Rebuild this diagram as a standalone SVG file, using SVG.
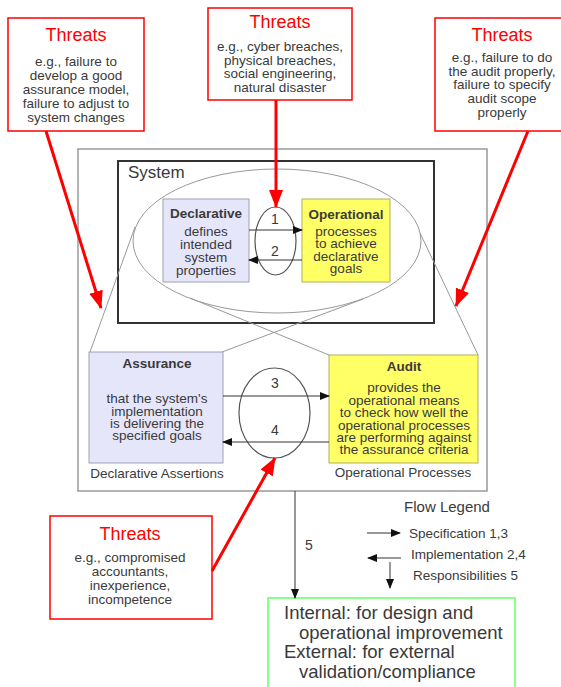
<svg xmlns="http://www.w3.org/2000/svg" width="561" height="687" viewBox="0 0 561 687">
<style>
text{font-family:"Liberation Sans",Arial,sans-serif;fill:#3a3a3a}
.tt{font-size:18px;fill:#ff0000;text-anchor:middle}
.tb{font-size:13.5px;text-anchor:middle}
.bt{font-size:13.5px;font-weight:bold;text-anchor:middle}
.thr{fill:#fff;stroke:#ff0000;stroke-width:1.5}
.red{stroke:#ff0000;stroke-width:3;fill:none}
.gl{stroke:#999;stroke-width:1;fill:none}
.blk{stroke:#333;stroke-width:1;fill:none}
.dec{fill:#e6e6fa;stroke:#a0a0b0;stroke-width:1}
.op{fill:#ffff66;stroke:#b0b060;stroke-width:1}
</style>
<defs>
<marker id="ah" markerWidth="10" markerHeight="8" refX="9" refY="4" orient="auto" markerUnits="userSpaceOnUse"><path d="M0,0 L10,4 L0,8 z" fill="#111"/></marker>
<marker id="rh" markerWidth="18" markerHeight="14" refX="17" refY="7" orient="auto" markerUnits="userSpaceOnUse"><path d="M0,0 L18,7 L0,14 z" fill="#ff0000"/></marker>
</defs>

<g id="outer"><rect x="78" y="149" width="409" height="342" fill="#fff" stroke="#999" stroke-width="1.5"/></g>

<g id="system">
<rect x="118" y="161" width="316" height="162" fill="none" stroke="#333" stroke-width="2"/>
<text x="128" y="178" style="font-size:17px">System</text>
</g>

<g id="perspective">
<ellipse cx="277" cy="241" rx="144" ry="72" class="gl"/>
<line x1="135" y1="227" x2="90" y2="352" class="gl"/>
<line x1="420" y1="233" x2="478" y2="355" class="gl"/>
<line x1="363" y1="299" x2="222" y2="352" class="gl"/>
<line x1="190" y1="298" x2="329" y2="355" class="gl"/>
</g>

<g id="declarative">
<rect x="163" y="199" width="86" height="83" class="dec"/>
<text x="206" y="218" class="bt">Declarative</text>
<text x="206" y="236" class="tb">defines</text>
<text x="206" y="249" class="tb">intended</text>
<text x="206" y="262" class="tb">system</text>
<text x="206" y="275" class="tb">properties</text>
</g>

<g id="operational">
<rect x="302" y="199" width="88" height="83" class="op"/>
<text x="346" y="219" class="bt">Operational</text>
<text x="346" y="236" class="tb">processes</text>
<text x="346" y="248" class="tb">to achieve</text>
<text x="346" y="261" class="tb">declarative</text>
<text x="346" y="273" class="tb">goals</text>
</g>

<g id="loop12">
<ellipse cx="275.5" cy="241" rx="20.5" ry="34" fill="none" stroke="#555" stroke-width="1.2"/>
<text x="275" y="224" style="font-size:14px;text-anchor:middle">1</text>
<text x="275" y="256" style="font-size:14px;text-anchor:middle">2</text>
</g>

<g id="assurance">
<rect x="89" y="352" width="134" height="111" class="dec"/>
<text x="157" y="368" class="bt">Assurance</text>
<text x="157" y="403" class="tb">that the system's</text>
<text x="157" y="416" class="tb">implementation</text>
<text x="157" y="428" class="tb">is delivering the</text>
<text x="157" y="440" class="tb">specified goals</text>
<text x="157" y="478" class="tb">Declarative Assertions</text>
</g>

<g id="audit">
<rect x="329" y="355" width="149" height="108" class="op"/>
<text x="404" y="371" class="bt">Audit</text>
<text x="404" y="392" class="tb">provides the</text>
<text x="404" y="405" class="tb">operational means</text>
<text x="404" y="417" class="tb">to check how well the</text>
<text x="404" y="430" class="tb">operational processes</text>
<text x="404" y="442" class="tb">are performing against</text>
<text x="404" y="454" class="tb">the assurance criteria</text>
<text x="403" y="477" class="tb">Operational Processes</text>
</g>

<g id="loop34">
<ellipse cx="274.5" cy="413" rx="35.5" ry="45" fill="none" stroke="#555" stroke-width="1.2"/>
<text x="275" y="388" style="font-size:14px;text-anchor:middle">3</text>
<text x="275" y="435" style="font-size:14px;text-anchor:middle">4</text>
</g>

<g id="threats1">
<rect x="8" y="18" width="136" height="113" class="thr"/>
<text x="76" y="41" class="tt">Threats</text>
<text x="76" y="66" class="tb">e.g., failure to</text>
<text x="76" y="80" class="tb">develop a good</text>
<text x="76" y="94" class="tb">assurance model,</text>
<text x="76" y="108" class="tb">failure to adjust to</text>
<text x="76" y="122" class="tb">system changes</text>
</g>

<g id="threats2">
<rect x="208" y="8" width="144" height="92" class="thr"/>
<text x="280" y="28" class="tt">Threats</text>
<text x="280" y="51" class="tb">e.g., cyber breaches,</text>
<text x="280" y="65" class="tb">physical breaches,</text>
<text x="280" y="78" class="tb">social engineering,</text>
<text x="280" y="92" class="tb">natural disaster</text>
</g>

<g id="threats3">
<rect x="435" y="18" width="130" height="113" class="thr"/>
<text x="502" y="41" class="tt">Threats</text>
<text x="502" y="62" class="tb">e.g., failure to do</text>
<text x="502" y="76" class="tb">the audit properly,</text>
<text x="502" y="89" class="tb">failure to specify</text>
<text x="502" y="103" class="tb">audit scope</text>
<text x="502" y="117" class="tb">properly</text>
</g>

<g id="threats4">
<rect x="50" y="516" width="162" height="103" class="thr"/>
<text x="130" y="540" class="tt">Threats</text>
<text x="130" y="562" class="tb">e.g., compromised</text>
<text x="130" y="576" class="tb">accountants,</text>
<text x="130" y="590" class="tb">inexperience,</text>
<text x="130" y="604" class="tb">incompetence</text>
</g>

<g id="outcome">
<rect x="268" y="598" width="247" height="95" fill="#fff" stroke="#66ff66" stroke-width="1.5"/>
<text x="284" y="619" style="font-size:18.5px">Internal: for design and</text>
<text x="299" y="639" style="font-size:18.5px">operational improvement</text>
<text x="284" y="658" style="font-size:18.5px">External: for external</text>
<text x="299" y="678" style="font-size:18.5px">validation/compliance</text>
</g>

<g id="legend">
<text x="447" y="512" style="font-size:15px;text-anchor:middle">Flow Legend</text>
<line x1="367" y1="533" x2="400" y2="533" class="blk" marker-end="url(#ah)"/>
<text x="409" y="538" style="font-size:13.5px">Specification 1,3</text>
<line x1="401" y1="558" x2="368" y2="558" class="blk" marker-end="url(#ah)"/>
<text x="411" y="559" style="font-size:13.5px">Implementation 2,4</text>
<line x1="390" y1="562" x2="390" y2="588" class="blk" marker-end="url(#ah)"/>
<text x="413" y="580" style="font-size:13.5px">Responsibilities 5</text>
</g>

<g id="connectors">
<line x1="249" y1="230" x2="302" y2="230" class="blk" marker-end="url(#ah)"/>
<line x1="302" y1="260" x2="249" y2="260" class="blk" marker-end="url(#ah)"/>
<line x1="223" y1="396" x2="329" y2="396" class="blk" marker-end="url(#ah)"/>
<line x1="329" y1="442" x2="223" y2="442" class="blk" marker-end="url(#ah)"/>
<line x1="295" y1="491" x2="295" y2="598" class="blk" marker-end="url(#ah)"/>
<text x="309" y="550" style="font-size:14px;text-anchor:middle">5</text>
<line x1="276" y1="100" x2="276" y2="207" class="red" marker-end="url(#rh)"/>
<line x1="46" y1="131" x2="101" y2="308" class="red" marker-end="url(#rh)"/>
<line x1="528" y1="131" x2="456" y2="306" class="red" marker-end="url(#rh)"/>
<line x1="212" y1="571" x2="275" y2="458" class="red" marker-end="url(#rh)"/>
</g>
</svg>
